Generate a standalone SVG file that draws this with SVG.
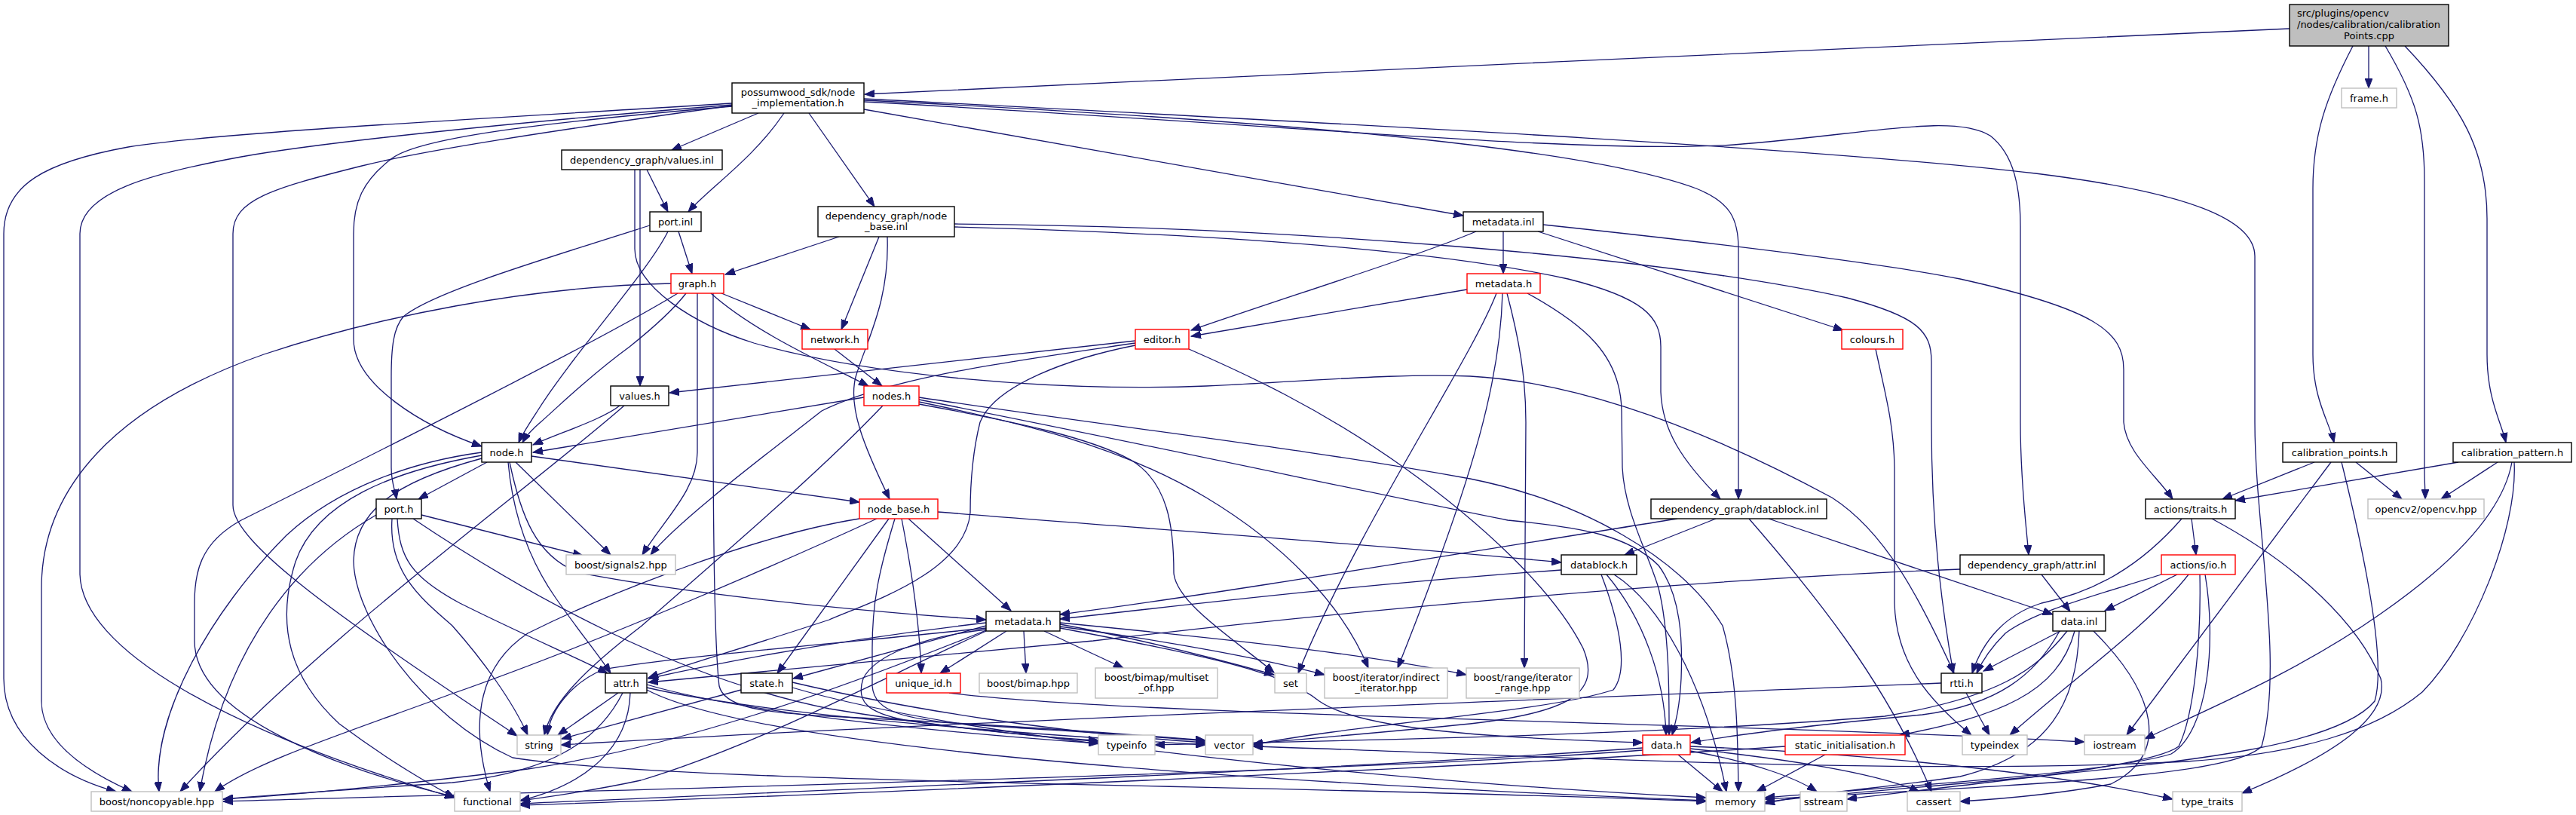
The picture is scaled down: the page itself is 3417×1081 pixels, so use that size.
<svg xmlns="http://www.w3.org/2000/svg" width="3417" height="1081" viewBox="0 0 3417 1081">
<style>
text{font-family:"DejaVu Sans",sans-serif;font-size:13px;fill:#000;text-anchor:middle}
.n rect{fill:#fff;stroke:#000;stroke-width:1.4}
.g rect{fill:#fff;stroke:#bfbfbf;stroke-width:1.4}
.r rect{fill:#fff;stroke:#ff0000;stroke-width:1.4}
#edges path{fill:none;stroke:#191970;stroke-width:1.3;marker-end:url(#a)}
</style>
<defs>
<marker id="a" markerUnits="userSpaceOnUse" markerWidth="14" markerHeight="10" refX="13" refY="5" orient="auto"><path d="M0,0 L13,5 L0,10 z" fill="#191970" stroke="#191970" stroke-width="1"/></marker>
</defs>
<rect width="3417" height="1081" fill="#fff"/>
<g id="edges">
<path d="M3037,38 C2500,60 1700,100 1147,125"/>
<path d="M3142,61 L3142,117"/>
<path d="M3121,61 C3085,130 3068,180 3068,250 L3068,470 C3068,530 3090,560 3096,587"/>
<path d="M3164,61 C3205,130 3216,170 3216,240 L3216,620 C3216,640 3217,650 3217,662"/>
<path d="M3190,61 C3265,140 3299,200 3299,290 L3299,470 C3299,530 3318,560 3324,587"/>
<path d="M1006,150 L891,199"/>
<path d="M1040,150 C1000,210 940,250 913,281"/>
<path d="M1073,150 L1160,274"/>
<path d="M1146,145 L1941,286"/>
<path d="M971,141 C750,160 560,180 520,210 C480,240 469,270 469,310 L469,450 C469,510 560,565 639,592"/>
<path d="M971,137 C600,160 300,175 170,195 C60,215 5,245 5,310 L5,900 C5,980 80,1030 154,1050"/>
<path d="M971,139 C650,165 420,190 320,208 C200,230 106,255 106,310 L106,760 C106,860 300,970 603,1058"/>
<path d="M971,140 C720,175 560,200 480,220 C360,250 309,265 309,310 L309,670 C309,720 450,820 686,976"/>
<path d="M1146,131 C1800,165 2400,195 2700,230 C2900,255 2991,290 2991,340 L2991,560 C2991,700 3030,880 3000,990 C2960,1030 2700,1040 2341,1060"/>
<path d="M1146,133 C1700,160 2100,195 2250,250 C2295,268 2306,290 2306,330 L2306,662"/>
<path d="M1146,135 C1700,165 2100,205 2300,192 C2480,178 2590,150 2640,180 C2672,205 2680,250 2680,300 L2680,560 C2680,640 2688,700 2691,736"/>
<path d="M858,225 L886,281"/>
<path d="M849,225 L849,512"/>
<path d="M842,225 L842,330 C842,380 920,430 1000,455 C1150,498 1400,520 1600,512 C1750,505 1850,495 1950,499 C2120,508 2300,590 2430,660 C2500,705 2545,790 2592,893"/>
<path d="M1113,314 L962,364"/>
<path d="M1166,314 L1116,437"/>
<path d="M1177,314 C1180,400 1150,450 1135,500 C1125,540 1145,590 1180,662"/>
<path d="M1266,297 C1700,300 2200,340 2450,395 C2545,420 2562,440 2562,480 L2562,560 C2562,700 2575,800 2591,893"/>
<path d="M1266,301 C1600,310 1900,330 2080,370 C2180,395 2203,420 2203,460 L2203,520 C2205,570 2230,610 2282,662"/>
<path d="M900,307 L918,363"/>
<path d="M862,299 C700,350 570,390 535,420 C522,435 519,460 519,500 L519,620 C519,640 524,650 526,662"/>
<path d="M886,307 C860,360 760,470 713,545 C700,565 692,577 688,587"/>
<path d="M957,389 L1075,437"/>
<path d="M943,389 C1000,440 1090,480 1152,512"/>
<path d="M925,389 L925,600 C925,650 880,690 852,736"/>
<path d="M946,389 L946,545 C946,700 947,850 954,910 C960,935 1000,945 1100,950 C1300,960 1450,970 1599,982"/>
<path d="M910,389 C890,415 860,440 835,460 C780,500 740,540 717,560 C705,570 698,578 693,587"/>
<path d="M890,376 C700,380 500,420 350,470 C150,540 55,650 55,780 L55,930 C55,990 130,1030 175,1050"/>
<path d="M899,389 C800,450 500,600 320,690 C265,720 258,760 258,800 L258,850 C258,950 450,1020 603,1057"/>
<path d="M1146,527 L707,600"/>
<path d="M1171,538 C1100,613 1000,700 850,831 C760,900 730,940 722,975"/>
<path d="M1219,527 C1500,570 1700,590 1950,635 C2100,665 2230,740 2285,830 C2305,900 2305,980 2306,1050"/>
<path d="M1219,530 C1500,585 1800,650 2000,690 C2100,700 2160,710 2200,750 C2230,790 2232,850 2230,900 C2228,940 2222,960 2218,975"/>
<path d="M1219,533 C1350,560 1483,590 1600,660 C1700,720 1780,800 1815,886"/>
<path d="M1219,536 C1350,560 1444,580 1500,610 C1550,640 1557,700 1557,760 C1560,800 1640,850 1690,892"/>
<path d="M1107,463 L1170,512"/>
<path d="M1506,452 L888,521"/>
<path d="M1506,455 C1350,478 1180,500 1090,545 C1020,600 900,690 863,736"/>
<path d="M1506,458 C1420,475 1320,510 1300,560 C1290,600 1287,640 1287,680 C1280,760 1150,800 1100,822 C1000,855 900,885 860,899"/>
<path d="M1577,463 C1650,495 1750,540 1865,622 C1960,690 2060,780 2100,860 C2125,920 2080,945 1950,960 C1800,975 1700,982 1662,987"/>
<path d="M1994,307 L1994,363"/>
<path d="M1958,307 C1880,340 1700,396 1580,438"/>
<path d="M2040,307 L2445,438"/>
<path d="M2047,298 C2300,325 2500,350 2600,370 C2780,410 2817,440 2817,490 L2817,560 C2820,600 2860,630 2882,662"/>
<path d="M1946,384 L1580,446"/>
<path d="M1985,389 C1950,480 1800,700 1722,893"/>
<path d="M1993,389 C1990,500 1960,620 1854,886"/>
<path d="M1999,389 C2015,450 2024,500 2024,560 L2022,886"/>
<path d="M2026,389 C2100,430 2150,470 2151,545 L2152,620 C2155,680 2185,730 2200,780 C2215,840 2214,930 2214,975"/>
<path d="M2488,463 C2500,520 2512,560 2513,620 L2513,800 C2515,880 2560,930 2615,975"/>
<path d="M822,538 C800,556 740,575 707,590"/>
<path d="M828,538 C700,650 420,850 239,1050"/>
<path d="M646,613 L555,662"/>
<path d="M684,613 L810,736"/>
<path d="M674,613 C680,680 700,740 737,793 C770,840 795,870 810,893"/>
<path d="M676,613 C690,680 710,740 770,760 C900,785 1100,808 1308,822"/>
<path d="M705,605 L1140,666"/>
<path d="M639,600 C550,612 450,645 380,710 C280,810 200,950 211,1050"/>
<path d="M639,604 C520,625 420,665 392,745 C365,830 385,900 450,960 C520,1012 570,1040 603,1058"/>
<path d="M639,608 C520,640 470,680 469,744 C470,820 560,950 680,1005 C900,1040 1700,1040 2263,1063"/>
<path d="M559,683 L773,737"/>
<path d="M520,688 C515,760 560,795 600,830 C640,875 680,930 700,975"/>
<path d="M527,688 C530,740 545,765 610,800 C690,840 760,870 806,893"/>
<path d="M499,683 C400,740 300,850 265,1050"/>
<path d="M548,688 C700,790 900,900 1100,940 C1250,965 1380,978 1457,982"/>
<path d="M1205,688 L1341,810"/>
<path d="M1196,688 C1210,760 1220,830 1222,893"/>
<path d="M1187,688 C1165,760 1157,800 1157,860 L1157,910 C1160,945 1200,955 1300,962 C1450,972 1550,978 1599,983"/>
<path d="M1179,688 L1031,893"/>
<path d="M1163,688 C1050,740 800,850 600,920 C450,975 340,1010 285,1050"/>
<path d="M1140,688 C1000,710 800,790 700,840 C640,880 620,950 650,1050"/>
<path d="M1244,679 C1500,700 1800,720 2071,746"/>
<path d="M1335,837 L1247,893"/>
<path d="M1358,837 L1361,893"/>
<path d="M1385,837 L1490,886"/>
<path d="M1406,828 C1500,845 1600,870 1690,895"/>
<path d="M1406,831 C1550,850 1680,875 1757,895"/>
<path d="M1406,826 C1600,845 1800,865 1945,895"/>
<path d="M1406,833 C1600,870 1700,890 1750,930 C1800,965 1950,978 2179,985"/>
<path d="M1308,826 C1100,850 950,880 860,900"/>
<path d="M1308,830 L1052,900"/>
<path d="M1308,833 C1150,850 900,870 800,888 C760,905 730,940 726,975"/>
<path d="M1308,835 C1220,845 1160,870 1145,900 C1135,930 1150,945 1200,955 C1300,970 1400,978 1457,984"/>
<path d="M1308,836 C1100,920 900,990 700,1020 C500,1045 380,1055 296,1060"/>
<path d="M1308,837 C1150,910 1000,990 850,1035 C780,1050 720,1058 690,1062"/>
<path d="M820,919 L740,975"/>
<path d="M826,919 C790,990 720,1025 600,1038 C450,1048 350,1055 296,1060"/>
<path d="M836,919 C834,990 780,1040 690,1062"/>
<path d="M858,908 C1000,950 1300,975 1457,986"/>
<path d="M858,912 C1000,945 1300,970 1599,988"/>
<path d="M858,915 C1000,990 1600,1035 2263,1062"/>
<path d="M983,915 L745,980"/>
<path d="M1051,905 C1200,940 1400,972 1599,985"/>
<path d="M1051,912 C1300,985 1900,1040 2263,1058"/>
<path d="M1259,919 C1500,950 2300,958 2765,984"/>
<path d="M2276,688 L2155,736"/>
<path d="M2225,688 C1900,740 1600,790 1406,815"/>
<path d="M2320,688 C2400,780 2500,900 2562,1050"/>
<path d="M2346,688 C2500,740 2650,790 2723,815"/>
<path d="M2071,756 C1800,775 1550,805 1406,821"/>
<path d="M2131,762 C2180,820 2208,900 2210,975"/>
<path d="M2141,762 C2200,800 2260,900 2290,1050"/>
<path d="M2124,762 C2150,830 2160,890 2140,915 C2050,945 1800,960 1662,988"/>
<path d="M2226,1001 L2285,1050"/>
<path d="M2242,996 C2320,1010 2380,1030 2410,1050"/>
<path d="M2242,993 C2400,1010 2500,1030 2546,1050"/>
<path d="M2242,990 C2500,1000 2750,1030 2882,1060"/>
<path d="M2179,995 C1800,1025 800,1048 296,1063"/>
<path d="M2179,992 C1800,1020 1000,1052 690,1066"/>
<path d="M2421,1001 L2330,1050"/>
<path d="M2368,990 C1900,1022 1000,1058 690,1068"/>
<path d="M2733,837 L2631,890"/>
<path d="M2742,837 C2700,890 2650,925 2500,950 C2200,975 1800,982 1532,988"/>
<path d="M2732,837 C2700,895 2650,935 2550,948 C2400,962 2300,975 2243,985"/>
<path d="M2752,837 C2730,920 2650,950 2520,975"/>
<path d="M2758,837 C2755,930 2720,1000 2600,1030 C2500,1045 2400,1052 2341,1066"/>
<path d="M2777,837 C2860,920 2880,1000 2800,1040 C2720,1055 2650,1060 2600,1063"/>
<path d="M2608,919 L2639,975"/>
<path d="M2575,906 C2000,930 1200,960 744,988"/>
<path d="M2708,762 L2746,811"/>
<path d="M2600,755 C2200,770 1700,820 1450,850 C1200,875 950,895 860,905"/>
<path d="M2888,762 L2792,810"/>
<path d="M2867,762 C2780,790 2700,810 2660,840 C2640,860 2630,875 2622,893"/>
<path d="M2903,762 C2850,830 2750,900 2666,975"/>
<path d="M2918,762 C2920,850 2910,950 2890,990 C2850,1020 2600,1040 2450,1060"/>
<path d="M2925,762 C2940,850 2930,970 2880,1000 C2800,1025 2500,1045 2341,1058"/>
<path d="M2907,688 L2913,736"/>
<path d="M2894,688 C2840,750 2780,785 2708,800 C2660,815 2630,850 2616,893"/>
<path d="M2934,688 C3050,750 3130,830 3158,900 C3170,950 3100,1000 2974,1052"/>
<path d="M3070,613 L2948,662"/>
<path d="M3125,613 L3186,662"/>
<path d="M3092,613 L2821,975"/>
<path d="M3106,613 C3140,750 3165,880 3150,930 C3100,990 2900,1010 2700,1030 C2550,1045 2400,1055 2341,1064"/>
<path d="M3261,613 L2965,664"/>
<path d="M3313,613 L3238,662"/>
<path d="M3332,613 C3320,680 3250,750 3158,814 C3050,890 2930,940 2845,980"/>
<path d="M3335,613 C3340,700 3280,850 3213,918 C3150,970 3050,1000 2900,1010 C2500,1030 2000,1000 1662,990"/>
</g>
<g id="n_root"><rect x="3037" y="6" width="211" height="55" fill="#bfbfbf" stroke="#000" stroke-width="1.4"/><text x="3047" y="22" style="text-anchor:start">src/plugins/opencv</text><text x="3047" y="37" style="text-anchor:start">/nodes/calibration/calibration</text><text x="3142.5" y="51.5">Points.cpp</text></g>
<g id="n_frame" class="g"><rect x="3106" y="117" width="73" height="26"/><text x="3142.5" y="134.5">frame.h</text></g>
<g id="n_poss" class="n"><rect x="971" y="110" width="175" height="40"/><text x="1058.5" y="126.5">possumwood_sdk/node</text><text x="1058.5" y="141">_implementation.h</text></g>
<g id="n_valinl" class="n"><rect x="745" y="199" width="213" height="26"/><text x="851.5" y="216.5">dependency_graph/values.inl</text></g>
<g id="n_portinl" class="n"><rect x="862" y="281" width="68" height="26"/><text x="896" y="298.5">port.inl</text></g>
<g id="n_nbinl" class="n"><rect x="1085" y="274" width="181" height="40"/><text x="1175.5" y="290.5">dependency_graph/node</text><text x="1175.5" y="305">_base.inl</text></g>
<g id="n_graph" class="r"><rect x="890" y="363" width="70" height="26"/><text x="925" y="380.5">graph.h</text></g>
<g id="n_network" class="r"><rect x="1064" y="437" width="87" height="26"/><text x="1107.5" y="454.5">network.h</text></g>
<g id="n_editor" class="r"><rect x="1506" y="437" width="71" height="26"/><text x="1541.5" y="454.5">editor.h</text></g>
<g id="n_nodes" class="r"><rect x="1146" y="512" width="73" height="26"/><text x="1182.5" y="529.5">nodes.h</text></g>
<g id="n_values" class="n"><rect x="810" y="512" width="77" height="26"/><text x="848.5" y="529.5">values.h</text></g>
<g id="n_mdinl" class="n"><rect x="1941" y="281" width="106" height="26"/><text x="1994" y="298.5">metadata.inl</text></g>
<g id="n_mdred" class="r"><rect x="1946" y="363" width="97" height="26"/><text x="1994.5" y="380.5">metadata.h</text></g>
<g id="n_colours" class="r"><rect x="2443" y="437" width="81" height="26"/><text x="2483.5" y="454.5">colours.h</text></g>
<g id="n_node" class="n"><rect x="639" y="587" width="66" height="26"/><text x="672" y="604.5">node.h</text></g>
<g id="n_porth" class="n"><rect x="499" y="662" width="60" height="26"/><text x="529" y="679.5">port.h</text></g>
<g id="n_sig" class="g"><rect x="751" y="736" width="145" height="26"/><text x="823.5" y="753.5">boost/signals2.hpp</text></g>
<g id="n_attr" class="n"><rect x="803" y="893" width="55" height="26"/><text x="830.5" y="910.5">attr.h</text></g>
<g id="n_string" class="g"><rect x="686" y="975" width="58" height="26"/><text x="715" y="992.5">string</text></g>
<g id="n_noncopy" class="g"><rect x="121" y="1050" width="174" height="26"/><text x="208" y="1067.5">boost/noncopyable.hpp</text></g>
<g id="n_functional" class="g"><rect x="603" y="1050" width="87" height="26"/><text x="646.5" y="1067.5">functional</text></g>
<g id="n_nodebase" class="r"><rect x="1140" y="662" width="104" height="26"/><text x="1192" y="679.5">node_base.h</text></g>
<g id="n_mdh" class="n"><rect x="1308" y="811" width="98" height="26"/><text x="1357" y="828.5">metadata.h</text></g>
<g id="n_state" class="n"><rect x="983" y="893" width="68" height="26"/><text x="1017" y="910.5">state.h</text></g>
<g id="n_uid" class="r"><rect x="1176" y="893" width="98" height="26"/><text x="1225" y="910.5">unique_id.h</text></g>
<g id="n_bimap" class="g"><rect x="1299" y="893" width="130" height="26"/><text x="1364" y="910.5">boost/bimap.hpp</text></g>
<g id="n_multiset" class="g"><rect x="1453" y="886" width="162" height="40"/><text x="1534" y="902.5">boost/bimap/multiset</text><text x="1534" y="917">_of.hpp</text></g>
<g id="n_set" class="g"><rect x="1691" y="893" width="42" height="26"/><text x="1712" y="910.5">set</text></g>
<g id="n_typeinfo" class="g"><rect x="1457" y="975" width="75" height="26"/><text x="1494.5" y="992.5">typeinfo</text></g>
<g id="n_vector" class="g"><rect x="1599" y="975" width="63" height="26"/><text x="1630.5" y="992.5">vector</text></g>
<g id="n_dbinl" class="n"><rect x="2190" y="662" width="233" height="26"/><text x="2306.5" y="679.5">dependency_graph/datablock.inl</text></g>
<g id="n_dbh" class="n"><rect x="2071" y="736" width="100" height="26"/><text x="2121" y="753.5">datablock.h</text></g>
<g id="n_indirect" class="g"><rect x="1757" y="886" width="163" height="40"/><text x="1838.5" y="902.5">boost/iterator/indirect</text><text x="1838.5" y="917">_iterator.hpp</text></g>
<g id="n_range" class="g"><rect x="1945" y="886" width="150" height="40"/><text x="2020" y="902.5">boost/range/iterator</text><text x="2020" y="917">_range.hpp</text></g>
<g id="n_datah" class="r"><rect x="2179" y="975" width="63" height="26"/><text x="2210.5" y="992.5">data.h</text></g>
<g id="n_static" class="r"><rect x="2368" y="975" width="159" height="26"/><text x="2447.5" y="992.5">static_initialisation.h</text></g>
<g id="n_memory" class="g"><rect x="2263" y="1050" width="78" height="26"/><text x="2302" y="1067.5">memory</text></g>
<g id="n_sstream" class="g"><rect x="2388" y="1050" width="62" height="26"/><text x="2419" y="1067.5">sstream</text></g>
<g id="n_cassert" class="g"><rect x="2530" y="1050" width="70" height="26"/><text x="2565" y="1067.5">cassert</text></g>
<g id="n_cpts" class="n"><rect x="3028" y="587" width="151" height="26"/><text x="3103.5" y="604.5">calibration_points.h</text></g>
<g id="n_cpat" class="n"><rect x="3254" y="587" width="157" height="26"/><text x="3332.5" y="604.5">calibration_pattern.h</text></g>
<g id="n_traits" class="n"><rect x="2846" y="662" width="119" height="26"/><text x="2905.5" y="679.5">actions/traits.h</text></g>
<g id="n_opencv" class="g"><rect x="3141" y="662" width="154" height="26"/><text x="3218" y="679.5">opencv2/opencv.hpp</text></g>
<g id="n_attrinl" class="n"><rect x="2600" y="736" width="191" height="26"/><text x="2695.5" y="753.5">dependency_graph/attr.inl</text></g>
<g id="n_io" class="r"><rect x="2867" y="736" width="98" height="26"/><text x="2916" y="753.5">actions/io.h</text></g>
<g id="n_datainl" class="n"><rect x="2723" y="811" width="70" height="26"/><text x="2758" y="828.5">data.inl</text></g>
<g id="n_rtti" class="n"><rect x="2575" y="893" width="54" height="26"/><text x="2602" y="910.5">rtti.h</text></g>
<g id="n_typeindex" class="g"><rect x="2603" y="975" width="86" height="26"/><text x="2646" y="992.5">typeindex</text></g>
<g id="n_iostream" class="g"><rect x="2765" y="975" width="80" height="26"/><text x="2805" y="992.5">iostream</text></g>
<g id="n_typetraits" class="g"><rect x="2882" y="1050" width="92" height="26"/><text x="2928" y="1067.5">type_traits</text></g>
</svg>
